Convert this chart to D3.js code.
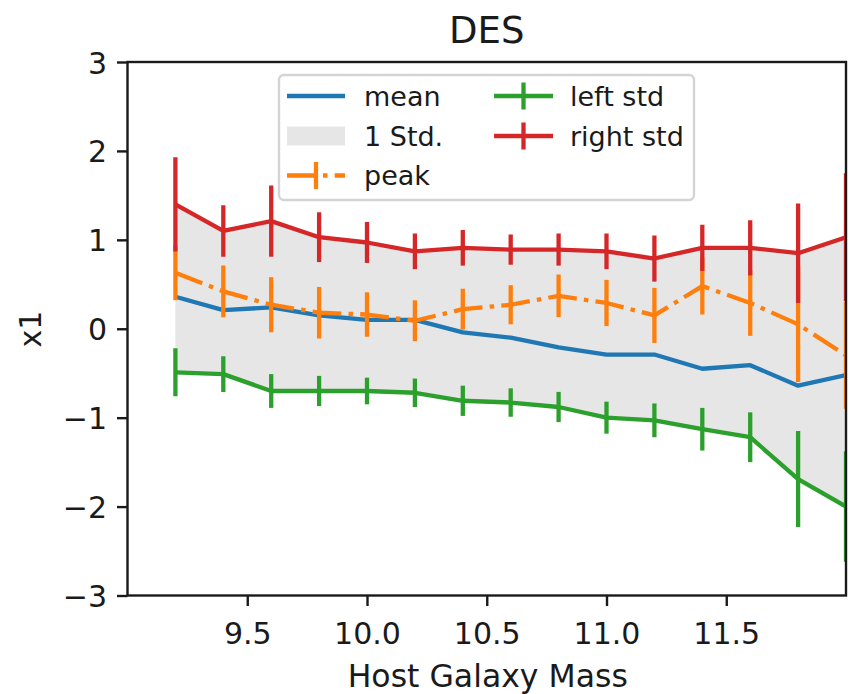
<!DOCTYPE html>
<html>
<head>
<meta charset="utf-8">
<script src="https://cdn.jsdelivr.net/npm/d3@7"></script>
<style>
  html, body { margin: 0; padding: 0; background: #fff; }
  svg { display: block; font-family: "DejaVu Sans", sans-serif; }
</style>
</head>
<body>
<svg id="chart" width="852" height="694"></svg>
<script>
// ---- data ----
const mass = [9.2, 9.4, 9.6, 9.8, 10.0, 10.2, 10.4, 10.6, 10.8, 11.0, 11.2, 11.4, 11.6, 11.8, 12.0];
const meanVals  = [0.36, 0.21, 0.24, 0.15, 0.10, 0.10, -0.04, -0.10, -0.21, -0.29, -0.29, -0.45, -0.41, -0.64, -0.52];
const peakVals  = [0.63, 0.42, 0.27, 0.18, 0.16, 0.09, 0.22, 0.27, 0.37, 0.29, 0.15, 0.48, 0.29, 0.05, -0.30];
const peakErr   = [0.31, 0.29, 0.31, 0.29, 0.25, 0.23, 0.23, 0.22, 0.24, 0.26, 0.31, 0.32, 0.37, 0.65, 0.60];
const leftVals  = [-0.49, -0.51, -0.70, -0.70, -0.70, -0.72, -0.81, -0.83, -0.88, -1.00, -1.03, -1.13, -1.22, -1.69, -2.00];
const leftErr   = [0.27, 0.20, 0.19, 0.17, 0.15, 0.16, 0.17, 0.16, 0.17, 0.18, 0.19, 0.24, 0.28, 0.54, 0.62];
const rightVals = [1.40, 1.10, 1.21, 1.03, 0.97, 0.87, 0.91, 0.89, 0.89, 0.87, 0.79, 0.91, 0.91, 0.85, 1.03];
const rightErr  = [0.53, 0.29, 0.40, 0.28, 0.23, 0.20, 0.20, 0.17, 0.18, 0.20, 0.26, 0.26, 0.31, 0.56, 0.72];
const xTicks = [9.5, 10.0, 10.5, 11.0, 11.5];
const yTicks = [-3, -2, -1, 0, 1, 2, 3];
const legendLabels = ["mean", "1 Std.", "peak", "left std", "right std"];
const title = "DES", xLabel = "Host Galaxy Mass", yLabel = "x1";

// ---- layout ----
const L = 127.5, R = 846, T = 62, B = 595.5;
const C = { blue: "#1f77b4", orange: "#ff7f0e", green: "#2ca02c", red: "#d62728" };
const LW = 4.3;

const svg = d3.select("#chart");
const x = d3.scaleLinear().domain([9.0, 12.0]).range([L, R]);
const y = d3.scaleLinear().domain([-3, 3]).range([B, T]);

svg.append("defs").append("clipPath").attr("id", "clip")
  .append("rect").attr("x", L).attr("y", T).attr("width", R - L).attr("height", B - T);

const plot = svg.append("g").attr("clip-path", "url(#clip)");

// band between left std and right std
const band = d3.area()
  .x((d, i) => x(mass[i]))
  .y0((d, i) => y(leftVals[i]))
  .y1((d, i) => y(rightVals[i]));
plot.append("path").datum(mass).attr("d", band)
  .attr("fill", "rgb(128,128,128)").attr("fill-opacity", 0.2);

const line = vals => d3.line().x((d, i) => x(mass[i])).y((d, i) => y(vals[i]))(mass);

// mean
plot.append("path").attr("d", line(meanVals))
  .attr("fill", "none").attr("stroke", C.blue).attr("stroke-width", LW).attr("stroke-linejoin", "round");

function errorbar(vals, errs, color, dash) {
  const g = plot.append("g");
  g.append("path").attr("d", line(vals))
    .attr("fill", "none").attr("stroke", color).attr("stroke-width", LW)
    .attr("stroke-dasharray", dash || null).attr("stroke-linejoin", "round");
  g.selectAll("line.err").data(mass).join("line").attr("class", "err")
    .attr("x1", d => x(d)).attr("x2", d => x(d))
    .attr("y1", (d, i) => y(vals[i] - errs[i]))
    .attr("y2", (d, i) => y(vals[i] + errs[i]))
    .attr("stroke", color).attr("stroke-width", LW);
}
const dashDot = "28.8,7.2,4.5,7.2";
errorbar(peakVals, peakErr, C.orange, dashDot);
errorbar(leftVals, leftErr, C.green);
errorbar(rightVals, rightErr, C.red);

// ---- axes ----
const fs = 30;
const axisColor = "#1a1a1a";
const xAxis = svg.append("g").attr("transform", `translate(0,${B})`)
  .call(d3.axisBottom(x).tickValues(xTicks).tickFormat(d3.format(".1f")).tickSize(10.5).tickPadding(7));
const yAxis = svg.append("g").attr("transform", `translate(${L},0)`)
  .call(d3.axisLeft(y).tickValues(yTicks).tickFormat(d => (d < 0 ? "\u2212" + Math.abs(d) : String(d))).tickSize(10.5).tickPadding(10));
[xAxis, yAxis].forEach(a => {
  a.select(".domain").remove();
  a.selectAll(".tick line").attr("stroke", axisColor).attr("stroke-width", 2.4);
  a.selectAll(".tick text").attr("fill", "#1a1a1a").style("font-size", fs + "px")
    .style("font-family", "DejaVu Sans, sans-serif");
});
xAxis.selectAll(".tick text").attr("dy", null).attr("y", 48).attr("dominant-baseline", "auto");
yAxis.selectAll(".tick text").attr("dy", null).attr("y", 11);

// frame
svg.append("rect").attr("x", L).attr("y", T).attr("width", R - L).attr("height", B - T)
  .attr("fill", "none").attr("stroke", axisColor).attr("stroke-width", 2.4);

// titles
svg.append("text").attr("x", (L + R) / 2).attr("y", 43).attr("text-anchor", "middle")
  .style("font-size", "37px").attr("fill", "#1a1a1a").text(title);
svg.append("text").attr("x", (L + R) / 2 + 1).attr("y", 687).attr("text-anchor", "middle")
  .style("font-size", "31.5px").attr("fill", "#1a1a1a").text(xLabel);
svg.append("text").attr("transform", `translate(40.5,329) rotate(-90)`).attr("text-anchor", "middle")
  .style("font-size", fs + "px").attr("fill", "#1a1a1a").text(yLabel);

// ---- legend ----
const lg = svg.append("g");
lg.append("rect").attr("x", 279).attr("y", 75).attr("width", 415).attr("height", 125)
  .attr("rx", 5).attr("fill", "#fff").attr("fill-opacity", 0.8)
  .attr("stroke", "#d4d4d4").attr("stroke-width", 2.4);
const rows = [96, 136, 175.5];
const cols = [{ h0: 287, h1: 345, t: 364 }, { h0: 494, h1: 553, t: 570 }];
const items = [
  { col: 0, row: 0, type: "line", color: C.blue },
  { col: 0, row: 1, type: "patch" },
  { col: 0, row: 2, type: "err", color: C.orange, dash: dashDot },
  { col: 1, row: 0, type: "err", color: C.green },
  { col: 1, row: 1, type: "err", color: C.red }
];
items.forEach((it, k) => {
  const c = cols[it.col], ry = rows[it.row];
  if (it.type === "patch") {
    lg.append("rect").attr("x", c.h0).attr("y", ry - 9.5).attr("width", c.h1 - c.h0).attr("height", 19)
      .attr("fill", "rgb(128,128,128)").attr("fill-opacity", 0.2);
  } else {
    lg.append("line").attr("x1", c.h0).attr("x2", c.h1).attr("y1", ry).attr("y2", ry)
      .attr("stroke", it.color).attr("stroke-width", LW).attr("stroke-dasharray", it.dash || null);
    if (it.type === "err") {
      const cx = (c.h0 + c.h1) / 2;
      lg.append("line").attr("x1", cx).attr("x2", cx).attr("y1", ry - 13.5).attr("y2", ry + 13.5)
        .attr("stroke", it.color).attr("stroke-width", LW);
    }
  }
  lg.append("text").attr("x", c.t).attr("y", ry + 9.5).style("font-size", "27px")
    .attr("fill", "#1a1a1a").text(legendLabels[k]);
});
</script>
</body>
</html>
